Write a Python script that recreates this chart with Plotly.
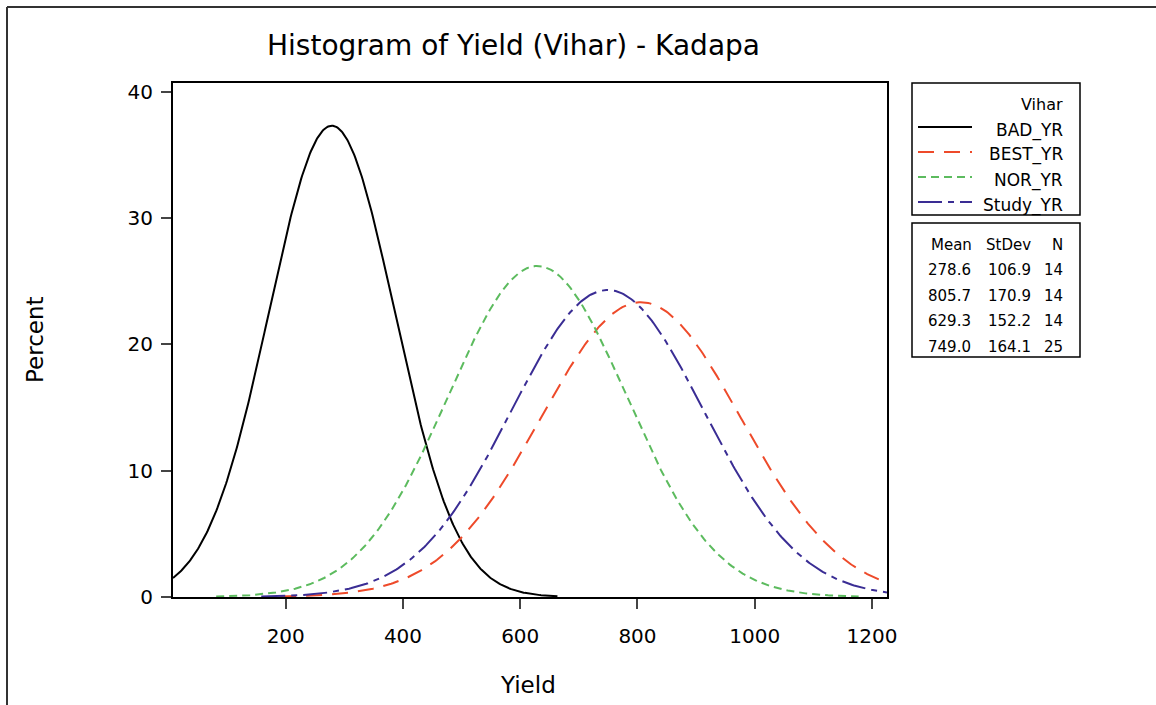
import numpy as np
import plotly.graph_objects as go

# Fitted-normal summary for each yield series (Vihar, Kadapa)
series = ["BAD_YR", "BEST_YR", "NOR_YR", "Study_YR"]
means = [278.6, 805.7, 629.3, 749.0]
stdevs = [106.9, 170.9, 152.2, 164.1]
counts = [14, 14, 14, 25]
bin_width = 100.0  # histogram bin width (Yield units) used to scale the fits to percent

colors = ["#000000", "#EE4A2A", "#5CBB5E", "#3A2D94"]
dashes = ["solid", "16px,10px", "8px,5px", "24px,6px,6px,6px"]

x_ticks = [200, 400, 600, 800, 1000, 1200]
y_ticks = [0, 10, 20, 30, 40]
x_range = [7.7, 1225.6]
y_range = [0, 40.7]

W, H = 1156, 705
L, R, T, B = 173, 887, 83, 597  # plot-area edges in pixels


def px(xp):
    return (xp - L) / (R - L)


def py(yp):
    return (B - yp) / (B - T)


fig = go.Figure()
for name, m, s, c, d in zip(series, means, stdevs, colors, dashes):
    lo = max(x_range[0], m - 3.6 * s)
    hi = min(x_range[1], m + 3.6 * s)
    xs = np.linspace(lo, hi, 400)
    pct = 100 * bin_width * np.exp(-0.5 * ((xs - m) / s) ** 2) / (s * np.sqrt(2 * np.pi))
    fig.add_trace(go.Scatter(x=xs, y=pct, mode="lines", name=name,
                             line=dict(color=c, width=2, dash=d), showlegend=False))

font = "DejaVu Sans"
fig.update_layout(
    width=W, height=H,
    margin=dict(l=L, r=W - R, t=T, b=H - B),
    paper_bgcolor="white", plot_bgcolor="white",
    font=dict(family=font, color="black"),
    xaxis=dict(range=x_range, tickvals=x_ticks, ticks="outside", ticklen=10, tickwidth=2,
               showline=True, linewidth=2, linecolor="black", mirror=True, showgrid=False,
               zeroline=False, tickfont=dict(size=20), ticklabelstandoff=10),
    yaxis=dict(range=y_range, tickvals=y_ticks, ticks="outside", ticklen=10, tickwidth=2,
               showline=True, linewidth=2, linecolor="black", mirror=True, showgrid=False,
               zeroline=False, tickfont=dict(size=20), ticklabelstandoff=4),
)

ann = []
shapes = []


def text(xp, yp, s, size, anchor="center", **kw):
    ann.append(dict(x=px(xp), y=py(yp), xref="paper", yref="paper", text=s, showarrow=False,
                    xanchor=anchor, yanchor="middle", font=dict(size=size, family=font), **kw))


# Title and axis titles
text(513, 45, "Histogram of Yield (Vihar) - Kadapa", 28)
text(528, 685, "Yield", 23)
text(35, 340, "Percent", 23, textangle=-90)

# Outer frame (top and left edges)
shapes.append(dict(type="line", xref="paper", yref="paper", x0=px(7), y0=py(7), x1=px(W + 5), y1=py(7),
                   line=dict(color="#333333", width=2)))
shapes.append(dict(type="line", xref="paper", yref="paper", x0=px(7), y0=py(7), x1=px(7), y1=py(H + 5),
                   line=dict(color="#333333", width=2)))

# Legend box
for y0, y1 in [(83, 215), (223, 357)]:
    shapes.append(dict(type="rect", xref="paper", yref="paper", x0=px(912), y0=py(y0), x1=px(1080), y1=py(y1),
                       line=dict(color="black", width=1.5), fillcolor="white"))

text(1065, 105, "Vihar", 16, anchor="right")
line_y = [127, 152, 177, 202]
for name, c, d, ly in zip(series, colors, dashes, line_y):
    shapes.append(dict(type="line", xref="paper", yref="paper", x0=px(918), y0=py(ly), x1=px(972), y1=py(ly),
                       line=dict(color=c, width=2, dash=d)))
    text(1065, ly + 3, name, 17, anchor="right")

# Summary statistics table
text(952, 245, "Mean", 15)
text(1008, 245, "StDev", 15)
text(1065, 245, "N", 15, anchor="right")
for i, (m, s, n) in enumerate(zip(means, stdevs, counts)):
    yy = 270 + i * 25.7
    text(973, yy, f"{m:.1f}", 15, anchor="right")
    text(1033, yy, f"{s:.1f}", 15, anchor="right")
    text(1065, yy, f"{n}", 15, anchor="right")

fig.update_layout(annotations=ann, shapes=shapes)
fig.write_html("out.html")
